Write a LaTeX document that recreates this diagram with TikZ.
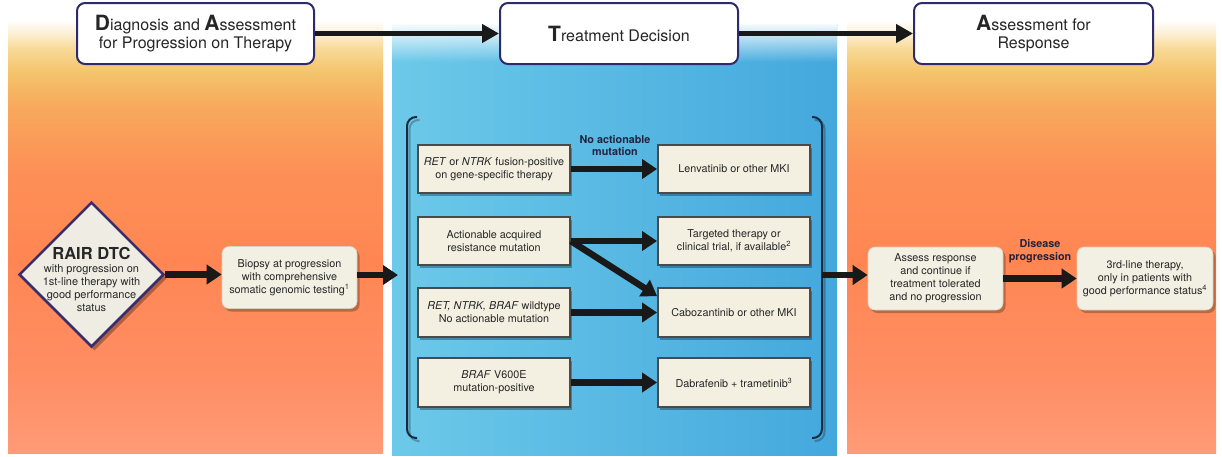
\documentclass[tikz,border=0pt]{standalone}
\usepackage{fontspec}
\setmainfont{TeX Gyre Heros}
\usetikzlibrary{arrows.meta,shapes.geometric,shadows,fadings,calc}

% palette
\definecolor{navy}{HTML}{2E2A6E}
\definecolor{cream}{HTML}{F4F0E1}
\definecolor{creamo}{HTML}{F2EFE3}
\definecolor{creamedge}{HTML}{D8D0BC}
\definecolor{boxline}{HTML}{4A4A4A}
\definecolor{bracketc}{HTML}{1C2A3E}
\definecolor{dialine}{HTML}{3A2D6B}
\definecolor{diafill}{HTML}{EFEDE3}
\definecolor{blueL}{HTML}{6CC9E9}
\definecolor{blueR}{HTML}{44A8DD}
\definecolor{ink}{HTML}{262626}
\definecolor{warmA}{HTML}{FCF0D6}
\definecolor{warmB}{HTML}{F8DA98}
\definecolor{warmC}{HTML}{F4C36A}
\definecolor{warmD}{HTML}{F8A85C}
\definecolor{warmE}{HTML}{FD9056}
\definecolor{warmF}{HTML}{FF8653}
\definecolor{warmG}{HTML}{FF8E64}
\definecolor{warmH}{HTML}{FF9B77}

% warm panel: white top, yellow band, coral body (25bp..75bp spans the panel)
\pgfdeclareverticalshading{warmpanel}{100bp}{%
  color(0bp)=(warmH); color(25bp)=(warmH); color(33.5bp)=(warmG);
  color(47.4bp)=(warmF); color(57.8bp)=(warmE); color(64.8bp)=(warmD);
  color(68.9bp)=(warmC); color(71.75bp)=(warmB); color(73.5bp)=(warmA);
  color(75bp)=(white); color(100bp)=(white)}

\tikzfading[name=topfade, top color=transparent!0, bottom color=transparent!100]

\newcommand\initcap[1]{{\fontsize{21}{18}\selectfont\bfseries #1}}

\begin{document}
\begin{tikzpicture}[x=1pt,y=1pt,
  txt/.style={font=\fontsize{10.8}{13}\selectfont, text=ink, align=center},
  hbox/.style={draw=navy, line width=2pt, fill=white, rounded corners=8pt,
    minimum width=237pt, minimum height=61pt, align=center, text=ink,
    font=\fontsize{16}{18}\selectfont},
  ibox/.style={txt, draw=boxline, line width=1.8pt, fill=cream,
    minimum width=152pt, minimum height=48pt, inner sep=2pt,
    drop shadow={shadow xshift=2pt, shadow yshift=-2.5pt, fill=black, opacity=0.3}},
  obox/.style={txt, fill=creamo, draw=creamedge, line width=0.6pt, rounded corners=7pt,
    minimum width=135pt, minimum height=62pt, inner sep=2pt,
    drop shadow={shadow xshift=2.5pt, shadow yshift=-3pt, fill=black, opacity=0.25}},
  bigarrow/.style={line width=6.5pt, -{Triangle[length=15pt,width=19pt]}, black!90},
  headarrow/.style={line width=4.5pt, -{Triangle[length=17pt,width=18pt]}, black!90},
  lbl/.style={font=\fontsize{10.8}{12.5}\selectfont\bfseries, text=ink!90!blue, align=center},
  bracketline/.style={draw=bracketc, line width=2pt, rounded corners=9pt}]

\useasboundingbox (0,0) rectangle (1222,-456);
\fill[white] (0,0) rectangle (1222,-456);

% background panels
\shade[shading=warmpanel] (8,-20) rectangle (383,-453);
\shade[shading=warmpanel] (847,-20) rectangle (1216,-453);
\shade[left color=blueL, right color=blueR] (392,-24) rectangle (837,-455);
\fill[white, path fading=topfade] (392,-22) rectangle (837,-62);

% phase headings
\node[hbox] (hl) at (195.5,-33.5) {\initcap{D}iagnosis and \initcap{A}ssessment\\for Progression on Therapy};
\node[hbox, minimum width=238pt] (hc) at (619,-33.5) {\initcap{T}reatment Decision};
\node[hbox, minimum width=239pt] (hr) at (1033.5,-33.5) {\initcap{A}ssessment for\\Response};
\draw[headarrow] (hl.east) -- (hc.west);
\draw[headarrow] (hc.east) -- (hr.west);

% starting point
\node[diamond, draw=dialine, line width=2.5pt, fill=diafill, minimum width=145pt,
  minimum height=145pt, inner sep=0pt,
  drop shadow={shadow xshift=3pt, shadow yshift=-4pt, fill=black, opacity=0.3}] (dia) at (91.5,-274.5) {};
\node[txt, font=\fontsize{11}{13}\selectfont] (diatext) at (91.5,-279)
  {{\fontsize{16.5}{17}\selectfont\bfseries RAIR DTC}\\with progression on\\1st-line therapy with\\good performance\\status};

\node[obox] (biopsy) at (289.5,-277.5) {Biopsy at progression\\with comprehensive\\somatic genomic testing\textsuperscript{1}};

% treatment bracket
\coordinate (brin) at (398,-275);
\coordinate (brout) at (822,-275);
\draw[bracketline, draw=black, opacity=0.25, xshift=2.5pt, yshift=-3pt] (417,-117) -- (407,-117) -- (407,-438) -- (417,-438);
\draw[bracketline, draw=black, opacity=0.25, xshift=2.5pt, yshift=-3pt] (812,-117) -- (822,-117) -- (822,-438) -- (812,-438);
\draw[bracketline] (417,-117) -- (407,-117) -- (407,-438) -- (417,-438);
\draw[bracketline] (812,-117) -- (822,-117) -- (822,-438) -- (812,-438);

% molecular profile and matching therapy
\node[ibox] (r1L) at (494,-169) {\textit{RET} or \textit{NTRK} fusion-positive\\on gene-specific therapy};
\node[ibox] (r1R) at (734,-169) {Lenvatinib or other MKI};
\node[ibox] (r2L) at (494,-241) {Actionable acquired\\resistance mutation};
\node[ibox] (r2R) at (734,-241) {Targeted therapy or\\clinical trial, if available\textsuperscript{2}};
\node[ibox, minimum height=49pt] (r3L) at (494,-312.5) {\textit{RET, NTRK, BRAF} wildtype\\No actionable mutation};
\node[ibox, minimum height=49pt] (r3R) at (734,-312.5) {Cabozantinib or other MKI};
\node[ibox, minimum height=49pt] (r4L) at (494,-382.5) {\textit{BRAF} V600E\\mutation-positive};
\node[ibox, minimum height=49pt] (r4R) at (734,-382.5) {Dabrafenib + trametinib\textsuperscript{3}};

\node[lbl] (lblNA) at (615,-145.5) {No actionable\\mutation};

\draw[bigarrow] (r1L.east) -- (r1R.west);
\draw[bigarrow] (r2L.east) -- (r2R.west);
\draw[bigarrow] (r2L.east) -- ([yshift=-9pt]r3R.north west);
\draw[bigarrow] (r3L.east) -- (r3R.west);
\draw[bigarrow] (r4L.east) -- (r4R.west);

% response assessment
\node[obox, minimum height=63pt] (assess) at (935.5,-278.5) {Assess response\\and continue if\\treatment tolerated\\and no progression};
\node[obox, minimum width=136pt, minimum height=63pt] (third) at (1145,-278.5) {3rd-line therapy,\\only in patients with\\good performance status\textsuperscript{4}};
\node[lbl] (lblDP) at (1040,-251) {Disease\\progression};

\draw[bigarrow] (dia.east) -- (dia.east -| biopsy.west);
\draw[bigarrow] (biopsy.east |- brin) -- (brin);
\draw[bigarrow] (brout) -- (brout -| assess.west);
\draw[bigarrow] (assess.east) -- (third.west);
\end{tikzpicture}
\end{document}
